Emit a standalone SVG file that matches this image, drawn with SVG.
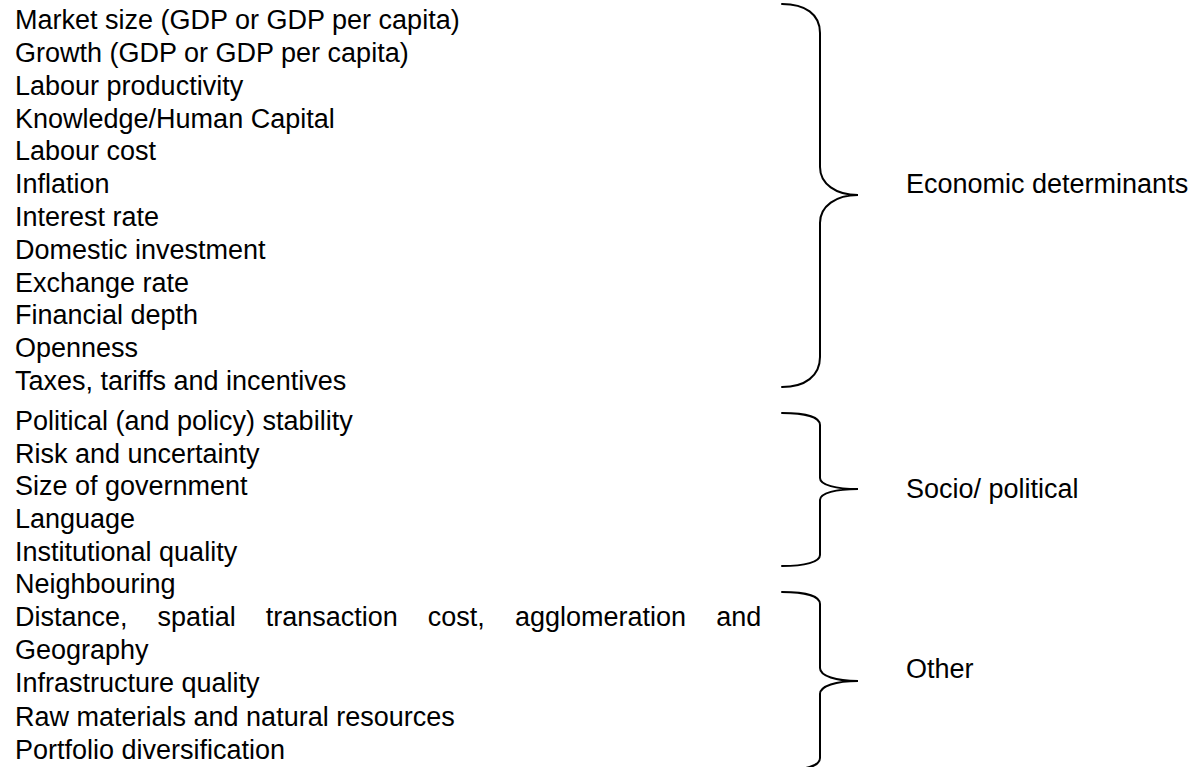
<svg xmlns="http://www.w3.org/2000/svg" width="1204" height="767" viewBox="0 0 1204 767">
  <style>
    text { font-family: "Liberation Sans", Arial, sans-serif; font-size: 27px; fill: #000; }
    .brace { fill: none; stroke: #000; stroke-width: 2; stroke-linecap: round; }
  </style>
  <rect width="1204" height="767" fill="#fff"/>

  <!-- Economic determinants: list of factors -->
  <g id="economic-factors">
    <text x="15" y="29">Market size (GDP or GDP per capita)</text>
    <text x="15" y="62">Growth (GDP or GDP per capita)</text>
    <text x="15" y="94.5">Labour productivity</text>
    <text x="15" y="127.5">Knowledge/Human Capital</text>
    <text x="15" y="160">Labour cost</text>
    <text x="15" y="193">Inflation</text>
    <text x="15" y="226">Interest rate</text>
    <text x="15" y="258.5">Domestic investment</text>
    <text x="15" y="291.5">Exchange rate</text>
    <text x="15" y="324">Financial depth</text>
    <text x="15" y="357">Openness</text>
    <text x="15" y="390">Taxes, tariffs and incentives</text>
  </g>

  <!-- Socio-political factors -->
  <g id="socio-political-factors">
    <text x="15" y="430">Political (and policy) stability</text>
    <text x="15" y="463">Risk and uncertainty</text>
    <text x="15" y="495">Size of government</text>
    <text x="15" y="528">Language</text>
    <text x="15" y="561">Institutional quality</text>
  </g>

  <!-- Other factors (second line is justified) -->
  <g id="other-factors">
    <text x="15" y="593">Neighbouring</text>
    <text y="626"><tspan x="15">Distance,</tspan><tspan x="157.6">spatial</tspan><tspan x="265.7">transaction</tspan><tspan x="427.8">cost,</tspan><tspan x="515">agglomeration</tspan><tspan x="716.2">and</tspan></text>
    <text x="15" y="659">Geography</text>
    <text x="15" y="692">Infrastructure quality</text>
    <text x="15" y="726">Raw materials and natural resources</text>
    <text x="15" y="759">Portfolio diversification</text>
  </g>

  <!-- Curly braces grouping the factor lists -->
  <g id="connectors">
    <path class="brace" d="M782,4 C805,4 820,14 820,33 L820,167 C820,184 836,195 858,195 C836,195 820,206 820,223 L820,357 C820,376 805,387 782,387"/>
    <path class="brace" d="M782,413 C805,413 820,417 820,425 L820,478 C820,485 836,489 858,489 C836,489 820,493 820,500 L820,555 C820,562 805,566 782,566"/>
    <path class="brace" d="M782,592 C805,592 820,596 820,604 L820,668 C820,676 836,681 858,681 C836,681 820,686 820,694 L820,758 C820,766 805,770 782,770"/>
  </g>

  <!-- Group labels -->
  <g id="label-economic">
    <text x="906" y="193">Economic determinants</text>
  </g>
  <g id="label-socio-political">
    <text x="906" y="498">Socio/ political</text>
  </g>
  <g id="label-other">
    <text x="906" y="678">Other</text>
  </g>
</svg>
